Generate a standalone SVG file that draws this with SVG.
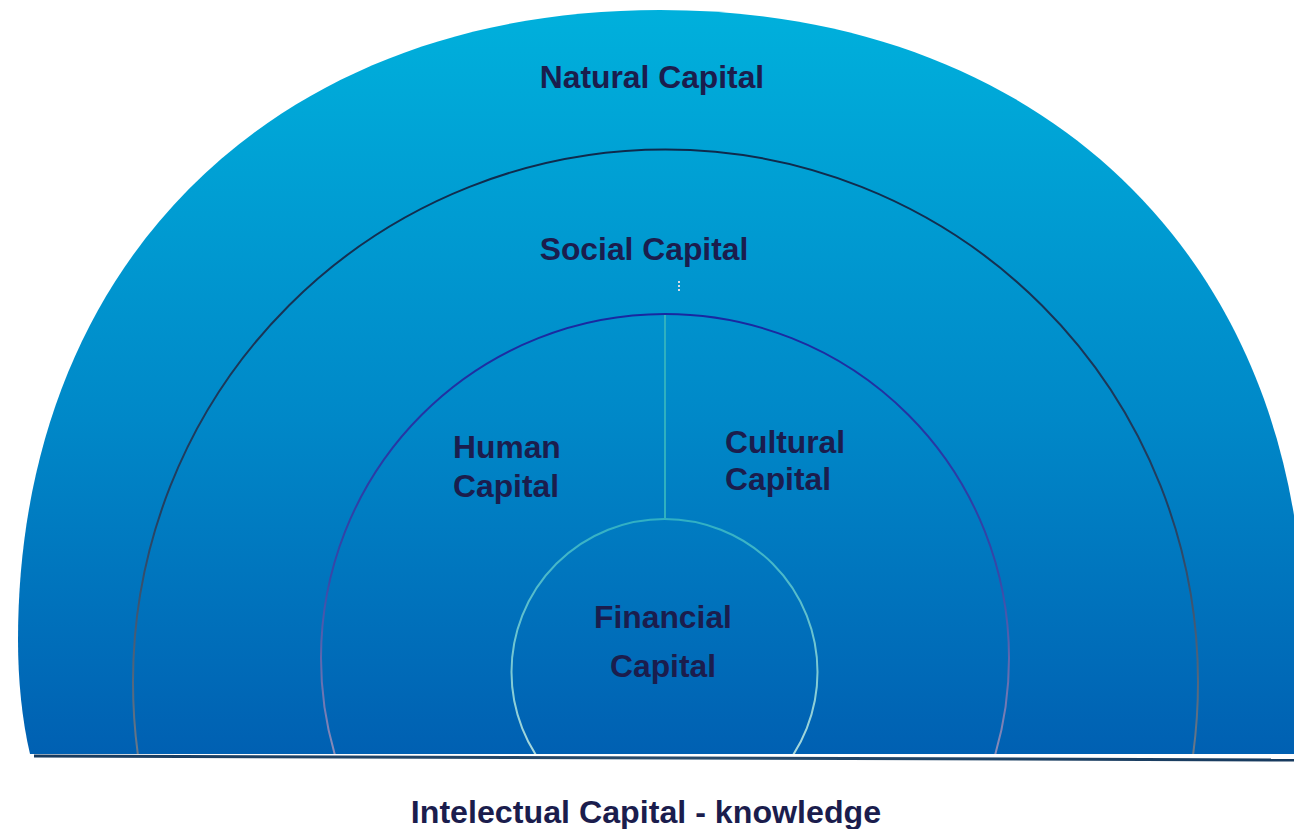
<svg xmlns="http://www.w3.org/2000/svg" width="1294" height="829" viewBox="0 0 1294 829">
  <defs>
    <linearGradient id="fillGrad" gradientUnits="userSpaceOnUse" x1="0" y1="10" x2="0" y2="754">
      <stop offset="0" stop-color="#00b0dc"/>
      <stop offset="0.55" stop-color="#0088c8"/>
      <stop offset="1" stop-color="#0060b2"/>
    </linearGradient>
    <linearGradient id="socialStroke" gradientUnits="userSpaceOnUse" x1="0" y1="150" x2="0" y2="754">
      <stop offset="0" stop-color="#0e2a4c"/>
      <stop offset="0.6" stop-color="#243f60"/>
      <stop offset="1" stop-color="#6a7888"/>
    </linearGradient>
    <linearGradient id="humanStroke" gradientUnits="userSpaceOnUse" x1="0" y1="314" x2="0" y2="754">
      <stop offset="0" stop-color="#1828a0"/>
      <stop offset="0.6" stop-color="#3848a8"/>
      <stop offset="1" stop-color="#8a8cb8"/>
    </linearGradient>
    <linearGradient id="finStroke" gradientUnits="userSpaceOnUse" x1="0" y1="520" x2="0" y2="754">
      <stop offset="0" stop-color="#30b0c4"/>
      <stop offset="1" stop-color="#a8d8dc"/>
    </linearGradient>
    <linearGradient id="baseGrad" gradientUnits="userSpaceOnUse" x1="34" y1="0" x2="1294" y2="0">
      <stop offset="0" stop-color="#173a5e"/>
      <stop offset="0.5" stop-color="#2a4c6c"/>
      <stop offset="1" stop-color="#173a5e"/>
    </linearGradient>
    <clipPath id="clipBottom">
      <rect x="0" y="0" width="1294" height="754"/>
    </clipPath>
  </defs>
  <style>
    .lbl { font-family: "Liberation Sans", Arial, sans-serif; font-weight: bold; font-size: 31.8px; fill: #1b1d4d; }
    .ring { fill: none; stroke-width: 2; }
  </style>

  <g id="natural-capital">
    <path d="M 30 754 C 22 720, 18 680, 18 640 C 18 262, 275 10, 660 10 C 1045 10, 1304 262, 1304 640 C 1304 680, 1302 720, 1300 754 Z" fill="url(#fillGrad)"/>
    <text class="lbl" x="652" y="88" text-anchor="middle">Natural Capital</text>
  </g>

  <g id="social-capital" clip-path="url(#clipBottom)">
    <circle class="ring" cx="665.5" cy="682" r="532.5" stroke="url(#socialStroke)"/>
  </g>
  <text class="lbl" x="644" y="260" text-anchor="middle">Social Capital</text>

  <g id="human-cultural-capital" clip-path="url(#clipBottom)">
    <circle class="ring" cx="665" cy="658" r="344" stroke="url(#humanStroke)"/>
  </g>

  <g id="human-capital">
    <text class="lbl" x="453" y="458">Human</text>
    <text class="lbl" x="453" y="497">Capital</text>
  </g>

  <g id="cultural-capital">
    <text class="lbl" x="725" y="453">Cultural</text>
    <text class="lbl" x="725" y="490">Capital</text>
  </g>

  <g id="financial-capital">
    <g clip-path="url(#clipBottom)">
      <circle class="ring" cx="664.5" cy="672" r="153" stroke="url(#finStroke)"/>
    </g>
    <text class="lbl" x="663" y="628" text-anchor="middle">Financial</text>
    <text class="lbl" x="663" y="677" text-anchor="middle">Capital</text>
  </g>

  <g id="connectors">
    <line x1="665" y1="315" x2="665" y2="519" stroke="#2fb0c0" stroke-width="2"/>
  </g>

  <g id="handle" fill="#d8dce4">
    <rect x="678" y="281" width="2" height="2"/>
    <rect x="678" y="285" width="2" height="2"/>
    <rect x="678" y="289" width="2" height="2"/>
  </g>

  <g id="intellectual-capital">
    <line x1="34" y1="756" x2="1294" y2="760" stroke="url(#baseGrad)" stroke-width="3"/>
    <text class="lbl" x="646" y="823" text-anchor="middle" style="font-size:32.2px">Intelectual Capital - knowledge</text>
  </g>
</svg>
